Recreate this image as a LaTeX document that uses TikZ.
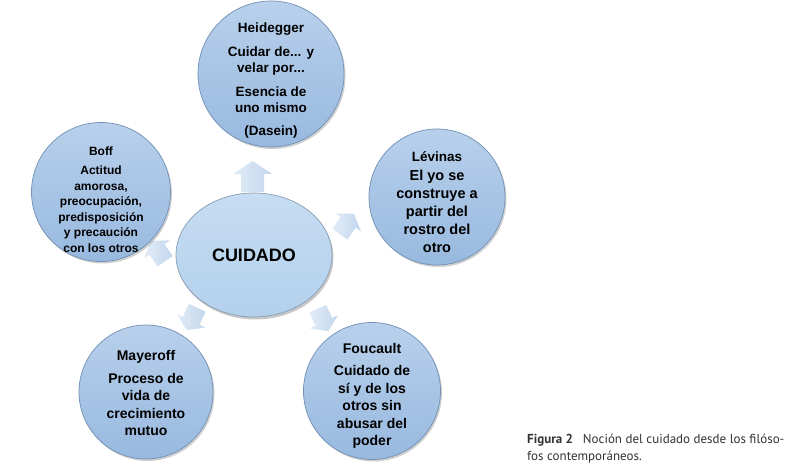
\documentclass[tikz,border=0pt]{standalone}
\usepackage{fontspec}
\setmainfont{Liberation Sans}
\newfontfamily\capfont{PT Sans}
\usetikzlibrary{shapes.geometric,shadows}
\definecolor{ctop}{HTML}{B8D0EB}
\definecolor{cbot}{HTML}{98B9DF}
\definecolor{cline}{HTML}{7090B5}
\definecolor{etop}{HTML}{C6DDF2}
\definecolor{ebot}{HTML}{B3D0EC}
\definecolor{eline}{HTML}{8A9DB3}
\definecolor{atail}{HTML}{E2ECF7}
\definecolor{ahead}{HTML}{C2D6ED}
\definecolor{captxt}{HTML}{333333}
\tikzset{
  bubble/.style={circle, inner sep=0pt, top color=ctop, bottom color=cbot,
    draw=cline, line width=0.7pt,
    drop shadow={shadow xshift=1.5pt, shadow yshift=-2pt, opacity=0.3, fill=black!60}},
  core/.style={ellipse, inner sep=0pt, top color=etop, bottom color=ebot,
    draw=eline, line width=0.7pt, align=center,
    drop shadow={shadow xshift=1.5pt, shadow yshift=-2.5pt, opacity=0.35, fill=black!60}},
  label/.style={align=center, inner sep=0pt},
  barrow/.pic={
    \shade[left color=atail, right color=ahead, draw=none]
      (-15.5,-11.5) -- (2.5,-11.5) -- (2.5,-19.5) -- (15.5,0)
      -- (2.5,19.5) -- (2.5,11.5) -- (-15.5,11.5) -- cycle;
  },
}
\begin{document}
\begin{tikzpicture}[x=1pt,y=-1pt]
\useasboundingbox[fill=white] (0,0) rectangle (800,470);
% arrows
\pic[rotate=90]  (a1) at (252.5,176.5) {barrow};
\pic[rotate=55, scale=0.8]  (a2) at (347,224) {barrow};
\pic[rotate=125, scale=0.8] (a3) at (158,251) {barrow};
\pic[rotate=245, scale=0.8] (a4) at (192,319) {barrow};
\pic[rotate=295, scale=0.8] (a5) at (323,320) {barrow};
% center
\node[core, minimum width=156pt, minimum height=124pt,
  font=\bfseries\fontsize{18}{20}\selectfont] (c) at (254,255) {CUIDADO};
% satellites
\node[bubble, minimum size=146pt] (h) at (271,74) {};
\node[label, font=\bfseries\fontsize{13.5}{16}\selectfont] (ht) at (271,81)
  {Heidegger\\[8pt]Cuidar de... y\\velar por...\\[8pt]Esencia de\\uno mismo\\[7pt](Dasein)};
\node[bubble, minimum size=139pt] (b) at (101,192) {};
\node[label, font=\bfseries\fontsize{12}{15.6}\selectfont] (bt) at (101,200)
  {Boff\\[3pt]Actitud\\amorosa,\\preocupación,\\predisposición\\y precaución\\con los otros};
\node[bubble, minimum size=136pt] (l) at (437,197) {};
\node[label, font=\bfseries\fontsize{14.5}{18}\selectfont] (lt) at (437,202)
  {{\fontsize{13.5}{16}\selectfont Lévinas}\\[1pt]El yo se\\construye a\\partir del\\rostro del\\otro};
\node[bubble, minimum size=134pt] (m) at (146,392) {};
\node[label, font=\bfseries\fontsize{14}{17.5}\selectfont] (mt) at (146,393)
  {Mayeroff\\[5pt]Proceso de\\vida de\\crecimiento\\mutuo};
\node[bubble, minimum size=137pt] (f) at (372,391) {};
\node[label, font=\bfseries\fontsize{14}{17.5}\selectfont] (ft) at (372,396)
  {Foucault\\[5pt]Cuidado de\\sí y de los\\otros sin\\abusar del\\poder};
% caption
\node[anchor=north west, align=left, inner sep=0pt, text=captxt,
  font=\capfont\fontsize{13}{17}\selectfont] (cap) at (527,434)
  {\textbf{Figura 2}\hspace{10pt}Noción del cuidado desde los filóso-\\fos contemporáneos.};
\end{tikzpicture}
\end{document}
